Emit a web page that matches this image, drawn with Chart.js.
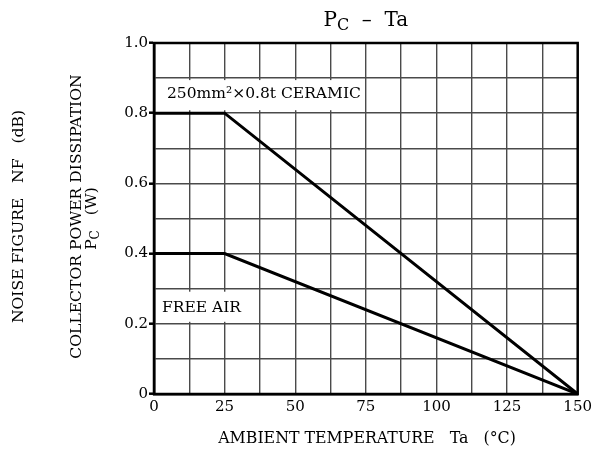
<!DOCTYPE html>
<html>
<head>
<meta charset="utf-8">
<script src="https://cdn.jsdelivr.net/npm/chart.js@4"></script>
<style>
html,body{margin:0;padding:0;background:#fff;}
#wrap{width:596px;height:453px;position:relative;}
</style>
</head>
<body>
<div id="wrap"><canvas id="c" width="596" height="453"></canvas></div>
<script>
const temps = [0, 25, 150];
const ceramicPc = [0.8, 0.8, 0];
const freeAirPc = [0.4, 0.4, 0];
const xTickLabels = ['0', '25', '50', '75', '100', '125', '150'];
const yTickLabels = ['0', '0.2', '0.4', '0.6', '0.8', '1.0'];
const curveLabels = ['250mm\u00b2\u00d70.8t CERAMIC', 'FREE AIR'];

const FONT = '"DejaVu Serif", "Liberation Serif", serif';

const decor = {
  id: 'decor',
  beforeDatasetsDraw(chart) {
    const {ctx, scales: {x, y}} = chart;
    ctx.save();
    ctx.fillStyle = '#fff';
    let x0 = x.getPixelForValue(0) + 2, x1 = x.getPixelForValue(75) - 2;
    let y0 = y.getPixelForValue(0.9) + 2, y1 = y.getPixelForValue(0.8) - 3;
    ctx.fillRect(x0, y0, x1 - x0, y1 - y0);
    x1 = x.getPixelForValue(37.5) - 2;
    y0 = y.getPixelForValue(0.3) + 3; y1 = y.getPixelForValue(0.2) - 2;
    ctx.fillRect(x0, y0, x1 - x0, y1 - y0);
    ctx.fillStyle = '#000';
    ctx.font = '15.5px ' + FONT;
    ctx.textBaseline = 'middle';
    ctx.textAlign = 'left';
    ctx.fillText(curveLabels[0], x.getPixelForValue(0) + 13, y.getPixelForValue(0.855));
    ctx.fillText(curveLabels[1], x.getPixelForValue(0) + 8, y.getPixelForValue(0.245));
    ctx.restore();
  },
  afterDraw(chart) {
    const {ctx, chartArea: a} = chart;
    ctx.save();
    ctx.strokeStyle = '#000';
    ctx.lineWidth = 2.5;
    ctx.strokeRect(a.left, a.top, a.right - a.left, a.bottom - a.top);
    ctx.fillStyle = '#000';
    ctx.textBaseline = 'alphabetic';
    const cx = (a.left + a.right) / 2;
    const p = 'P', rest = '  \u2013  Ta';
    ctx.font = '20px ' + FONT; const wP = ctx.measureText(p).width;
    ctx.font = '16px ' + FONT; const wC = ctx.measureText('C').width;
    ctx.font = '20px ' + FONT; const wR = ctx.measureText(rest).width;
    let sx = cx - (wP + wC + wR) / 2;
    ctx.textAlign = 'left';
    ctx.fillText(p, sx, 26);
    ctx.font = '16px ' + FONT; ctx.fillText('C', sx + wP, 30);
    ctx.font = '20px ' + FONT; ctx.fillText(rest, sx + wP + wC, 26);
    ctx.font = '15.8px ' + FONT;
    ctx.textAlign = 'center';
    ctx.textBaseline = 'middle';
    ctx.fillText('AMBIENT TEMPERATURE   Ta   (\u00b0C)', 367, 439);
    const cy = (a.top + a.bottom) / 2;
    ctx.save();
    ctx.translate(19, cy - 2);
    ctx.rotate(-Math.PI / 2);
    ctx.font = '15.6px ' + FONT;
    ctx.fillText('NOISE FIGURE   NF   (dB)', 0, 0);
    ctx.restore();
    ctx.save();
    ctx.translate(77, cy - 2);
    ctx.rotate(-Math.PI / 2);
    ctx.font = '15.6px ' + FONT;
    ctx.fillText('COLLECTOR POWER DISSIPATION', 0, 0);
    ctx.restore();
    ctx.save();
    ctx.translate(92, cy);
    ctx.rotate(-Math.PI / 2);
    ctx.textAlign = 'left';
    ctx.font = '15.6px ' + FONT;
    const wp = ctx.measureText('P').width;
    ctx.font = '12px ' + FONT;
    const wc = ctx.measureText('C').width;
    ctx.font = '15.6px ' + FONT;
    const ww = ctx.measureText('   (W)').width;
    let s = -(wp + wc + ww) / 2;
    ctx.fillText('P', s, 0);
    ctx.font = '12px ' + FONT; ctx.fillText('C', s + wp, 4);
    ctx.font = '15.6px ' + FONT; ctx.fillText('   (W)', s + wp + wc, 0);
    ctx.restore();
    ctx.restore();
  }
};

new Chart(document.getElementById('c'), {
  type: 'line',
  data: {
    datasets: [
      {data: temps.map((t, i) => ({x: t, y: ceramicPc[i]})), borderColor: '#000', borderWidth: 3, pointRadius: 0, tension: 0},
      {data: temps.map((t, i) => ({x: t, y: freeAirPc[i]})), borderColor: '#000', borderWidth: 3, pointRadius: 0, tension: 0}
    ]
  },
  options: {
    responsive: false,
    animation: false,
    devicePixelRatio: 1,
    layout: {padding: {left: 0, right: 17, top: 43, bottom: 0}},
    plugins: {legend: {display: false}, tooltip: {enabled: false}, title: {display: false}},
    scales: {
      x: {
        type: 'linear', min: 0, max: 150,
        afterFit(s) { s.height = 59; },
        afterBuildTicks(s) { const t = []; for (let v = 0; v <= 150; v += 12.5) t.push({value: v}); s.ticks = t; },
        ticks: {
          autoSkip: false, maxRotation: 0, padding: 4, color: '#000',
          font: {family: FONT, size: 15},
          callback(v) { const i = xTickLabels.indexOf(String(v)); return i >= 0 ? xTickLabels[i] : ''; }
        },
        grid: {color: '#4a4a4a', lineWidth: 1.4, drawTicks: false},
        border: {color: '#000', width: 2.5}
      },
      y: {
        type: 'linear', min: 0, max: 1.0,
        afterFit(s) { s.width = 154; },
        afterBuildTicks(s) { const t = []; for (let i = 0; i <= 10; i++) t.push({value: i / 10}); s.ticks = t; },
        ticks: {
          autoSkip: false, padding: 1, color: '#000',
          font: {family: FONT, size: 15},
          callback(v) { const k = Math.round(v * 10); return k % 2 === 0 ? yTickLabels[k / 2] : ''; }
        },
        grid: {
          color: '#4a4a4a', lineWidth: 1.4, tickLength: 5, tickWidth: 2.5,
          tickColor(c) { return c.tick && Math.round(c.tick.value * 10) % 2 === 0 ? '#000' : 'rgba(0,0,0,0)'; }
        },
        border: {color: '#000', width: 2.5}
      }
    }
  },
  plugins: [decor]
});
</script>
</body>
</html>
